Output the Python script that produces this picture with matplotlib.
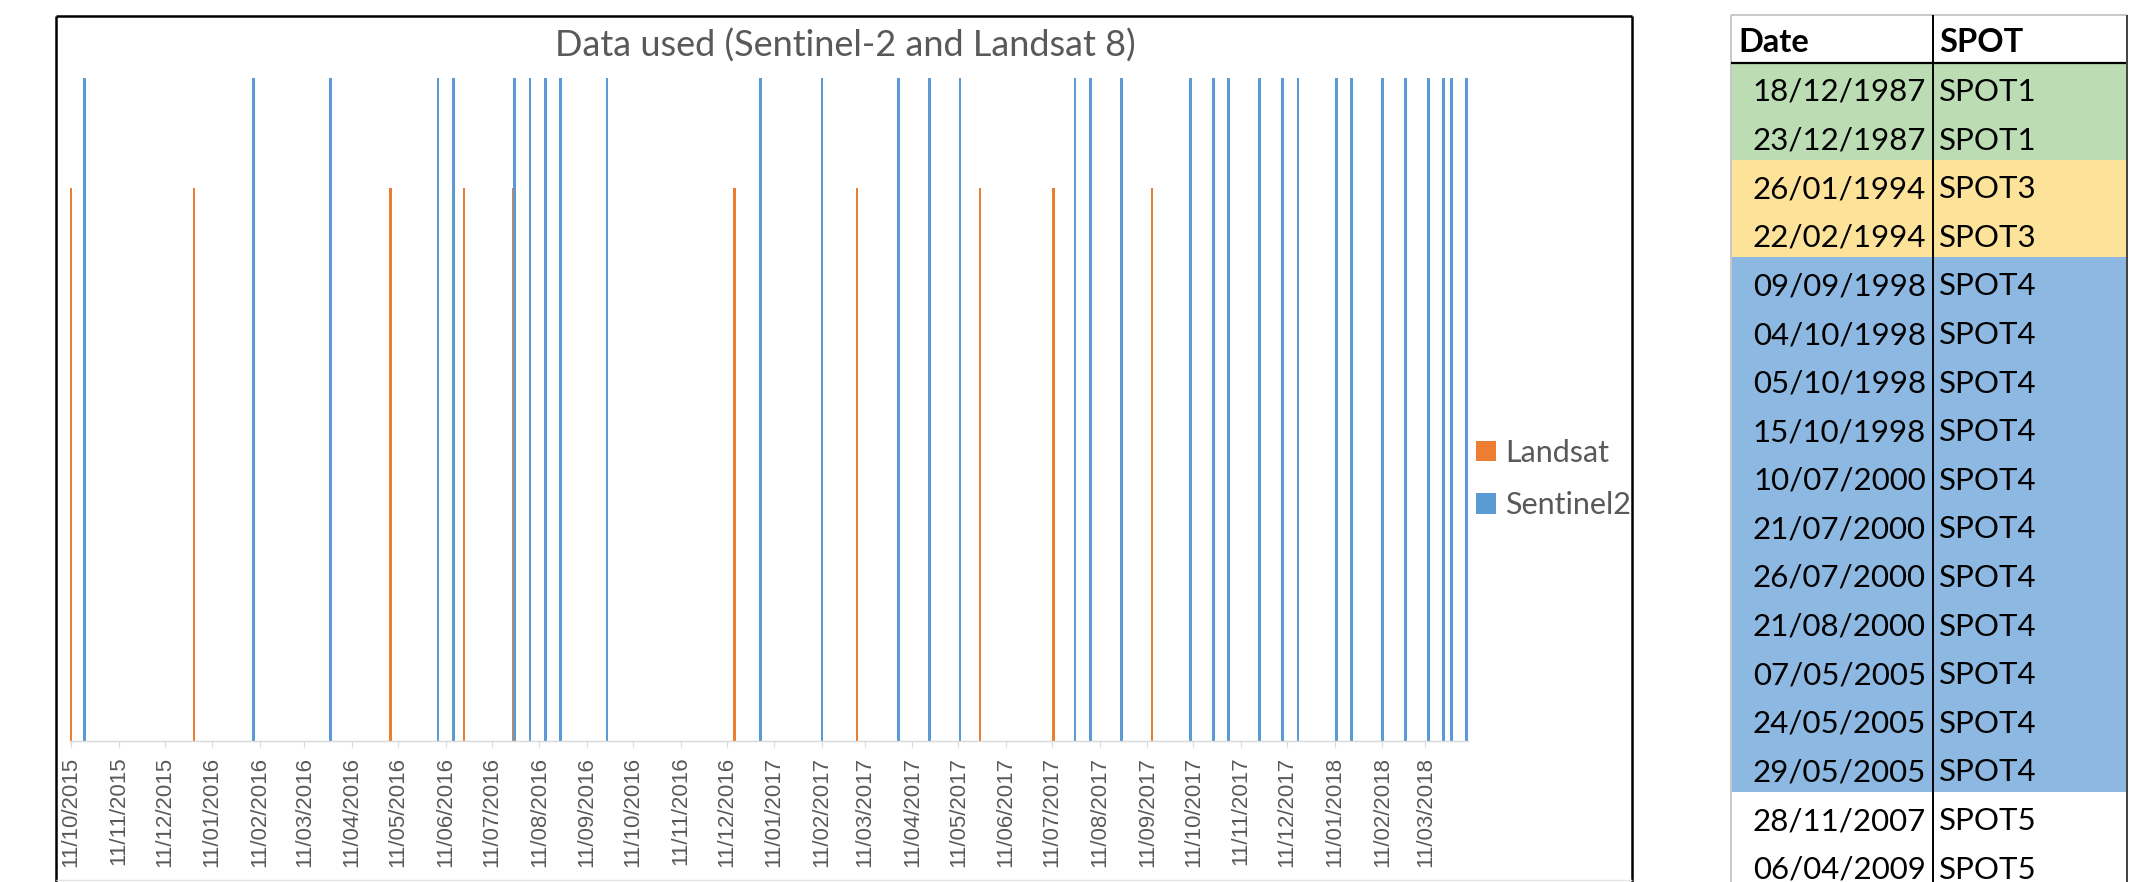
import matplotlib
matplotlib.use("Agg")
import matplotlib.pyplot as plt
import matplotlib.dates as mdates
from matplotlib.lines import Line2D
from matplotlib.patches import Rectangle
import pandas as pd

# acquisition dates
landsat_dates = [
    "2015-10-11", "2015-12-30", "2016-05-06", "2016-06-23", "2016-07-25",
    "2016-12-16", "2017-03-06", "2017-05-25", "2017-07-12", "2017-09-14",
]
sentinel2_dates = [
    "2015-10-20", "2016-02-07", "2016-03-28", "2016-06-06", "2016-06-16",
    "2016-07-26", "2016-08-05", "2016-08-15", "2016-08-25", "2016-09-24",
    "2017-01-02", "2017-02-11", "2017-04-02", "2017-04-22", "2017-05-12",
    "2017-07-26", "2017-08-05", "2017-08-25", "2017-10-09", "2017-10-24",
    "2017-11-03", "2017-11-23", "2017-12-08", "2017-12-18", "2018-01-12",
    "2018-01-22", "2018-02-11", "2018-02-26", "2018-03-13", "2018-03-23",
    "2018-03-28", "2018-04-07",
]
landsat_value = 1.0
sentinel2_value = 1.2

tick_labels = [
    "11/10/2015", "11/11/2015", "11/12/2015",
    "11/01/2016", "11/02/2016", "11/03/2016", "11/04/2016", "11/05/2016", "11/06/2016",
    "11/07/2016", "11/08/2016", "11/09/2016", "11/10/2016", "11/11/2016", "11/12/2016",
    "11/01/2017", "11/02/2017", "11/03/2017", "11/04/2017", "11/05/2017", "11/06/2017",
    "11/07/2017", "11/08/2017", "11/09/2017", "11/10/2017", "11/11/2017", "11/12/2017",
    "11/01/2018", "11/02/2018", "11/03/2018",
]

spot_dates = [
    "18/12/1987", "23/12/1987", "26/01/1994", "22/02/1994",
    "09/09/1998", "04/10/1998", "05/10/1998", "15/10/1998",
    "10/07/2000", "21/07/2000", "26/07/2000", "21/08/2000",
    "07/05/2005", "24/05/2005", "29/05/2005", "28/11/2007", "06/04/2009",
]
spot_sats = [
    "SPOT1", "SPOT1", "SPOT3", "SPOT3",
    "SPOT4", "SPOT4", "SPOT4", "SPOT4",
    "SPOT4", "SPOT4", "SPOT4", "SPOT4",
    "SPOT4", "SPOT4", "SPOT4", "SPOT5", "SPOT5",
]
sat_colors = {"SPOT1": "#BCDCB3", "SPOT3": "#FDE29A", "SPOT4": "#8DB8E2", "SPOT5": "white"}

ORANGE = "#ED7D31"
BLUE = "#5B9BD5"
GREY_TXT = "#595959"

W, H = 2136, 882
fig = plt.figure(figsize=(W / 100, H / 100), dpi=100)


def fx(px):
    return px / W


def fy(py):
    return 1 - py / H


def fline(x0, y0, x1, y1, color, lw):
    fig.add_artist(Line2D([fx(x0), fx(x1)], [fy(y0), fy(y1)], transform=fig.transFigure,
                          color=color, lw=lw, solid_capstyle="butt"))


# chart frame
fline(56, 16, 1632, 16, "black", 1.8)
fline(56, 16, 56, 882, "black", 1.8)
fline(1632, 16, 1632, 882, "black", 1.8)
fline(56, 880, 1632, 880, "#E3E3E3", 1.0)

ax = fig.add_axes([fx(70.2), fy(740.7), fx(1467.5) - fx(70.2), fy(77.5) - fy(740.7)])

ls = pd.to_datetime(landsat_dates)
s2 = pd.to_datetime(sentinel2_dates)
ax.bar(ls, [landsat_value] * len(ls), width=1.7, color=ORANGE, label="Landsat")
ax.bar(s2, [sentinel2_value] * len(s2), width=1.7, color=BLUE, label="Sentinel2")

x0 = mdates.date2num(pd.Timestamp("2015-10-11")) - 0.5
x1 = mdates.date2num(s2.max()) + 0.5
ax.set_xlim(x0, x1)
ax.set_ylim(0, 1.2)

ticks = pd.to_datetime(tick_labels, dayfirst=True)
ax.set_xticks(ticks)
ax.set_xticklabels(tick_labels, rotation=90, family="Liberation Sans", fontsize=16, color=GREY_TXT)
ax.tick_params(axis="x", length=4.5, width=0.8, color="#D9D9D9", pad=7)
ax.set_yticks([])
for side in ["top", "left", "right"]:
    ax.spines[side].set_visible(False)
ax.spines["bottom"].set_color("#D9D9D9")
ax.spines["bottom"].set_linewidth(1.0)
ax.patch.set_alpha(0)

ax.legend(loc="center left", bbox_to_anchor=(fx(1476), fy(479)), bbox_transform=fig.transFigure,
          frameon=False, borderaxespad=0, borderpad=0, handlelength=0.65, handleheight=0.65,
          handletextpad=0.3, labelspacing=0.8, prop={"family": "Lato", "size": 22},
          labelcolor=GREY_TXT)

fig.text(fx(845.5), fy(56.7), "Data used (Sentinel-2 and Landsat 8)", ha="center", va="baseline",
         family="Lato", fontsize=26, color=GREY_TXT)

# SPOT table on the right
t_left, t_sep, t_right = 1731, 1933, 2127
t_top, head_bot, row_h = 15, 63, 48.6
for i, (d, s) in enumerate(zip(spot_dates, spot_sats)):
    top = head_bot + i * row_h
    fig.add_artist(Rectangle((fx(t_left), fy(top + row_h)), fx(t_right) - fx(t_left), row_h / H,
                             transform=fig.transFigure, facecolor=sat_colors[s], edgecolor="none"))
    fig.text(fx(1926), fy(top + 38), d, ha="right", va="baseline", family="Lato", fontsize=22.5,
             color="black")
    fig.text(fx(1939), fy(top + 38), s, ha="left", va="baseline", family="Lato", fontsize=22.5,
             color="black")

fig.text(fx(1738), fy(52), "Date", ha="left", va="baseline", family="Lato", fontsize=23.5,
         fontweight="bold", color="black")
fig.text(fx(1939), fy(52), "SPOT", ha="left", va="baseline", family="Lato", fontsize=23.5,
         fontweight="bold", color="black")

fline(t_left, t_top, t_right, t_top, "#C8C8C8", 1.4)
fline(t_left, t_top, t_left, 882, "#C8C8C8", 1.4)
fline(t_left, head_bot, t_right, head_bot, "black", 1.6)
fline(t_sep, t_top, t_sep, 882, "black", 1.4)
fline(t_right, t_top, t_right, 882, "#404040", 1.4)

fig.savefig("out.png", dpi=100)
